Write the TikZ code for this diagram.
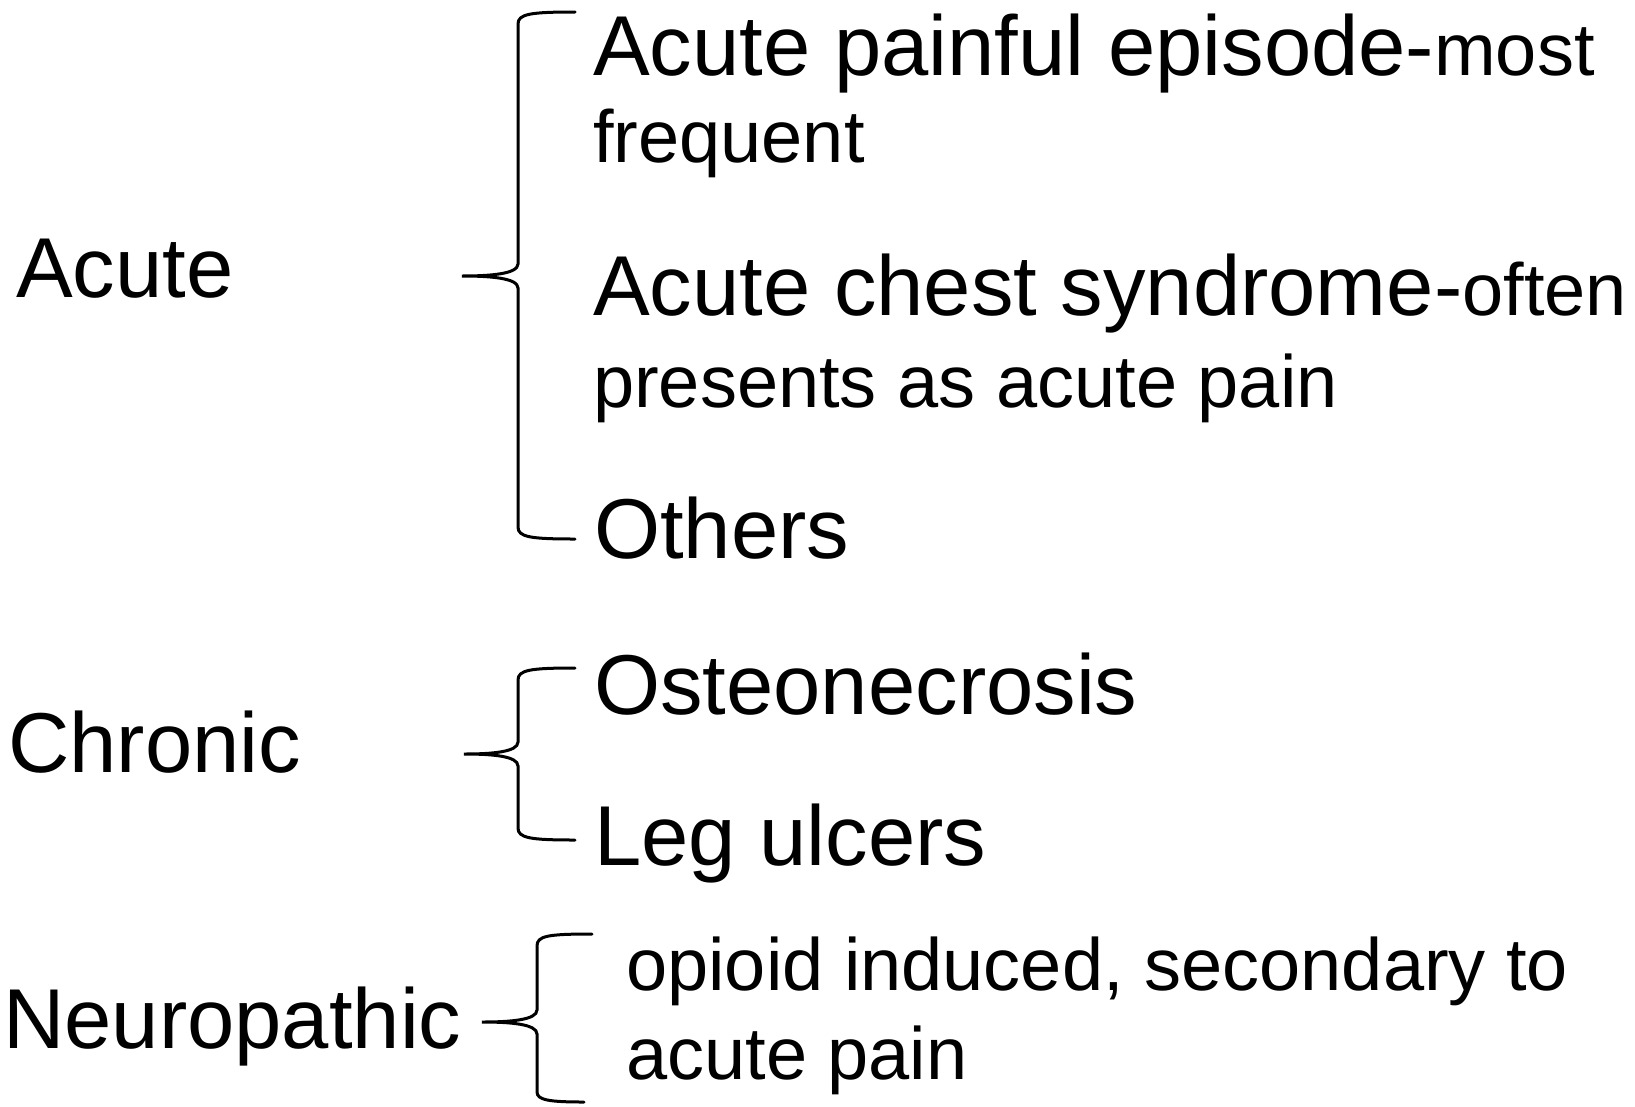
\documentclass[tikz,border=0pt]{standalone}
\usepackage{fontspec}
\setmainfont{Liberation Sans}
\usepackage{tikz}

\begin{document}
\begin{tikzpicture}[
    x=1pt, y=-1pt,
    cat/.style={anchor=base west, inner sep=0pt, font=\fontsize{85}{90}\selectfont},
    item/.style={anchor=base west, inner sep=0pt, align=left, font=\fontsize{85}{90}\selectfont},
    note/.style={font=\fontsize{74}{90}\selectfont},
    brace/.style={line width=3pt, line cap=round},
]
    \useasboundingbox (0,0) rectangle (1635,1106);

    % categories
    \node[cat] (acute) at (16,297) {Acute};
    \node[cat] (chronic) at (8,772) {Chronic};
    \node[cat] (neuro) at (3,1048) {Neuropathic};

    % items (multi-line ones sit on their last baseline)
    \node[item] (ape) at (593,162) {Acute painful episode-{\fontsize{74}{90}\selectfont most}\\[-3pt]{\fontsize{74}{90}\selectfont frequent}};
    \node[item] (acs) at (593,407) {Acute chest syndrome-{\fontsize{74}{90}\selectfont often}\\[2pt]{\fontsize{74}{90}\selectfont presents as acute pain}};
    \node[item] (others) at (594,558) {Others};
    \node[item] (osteo) at (594,714) {Osteonecrosis};
    \node[item] (leg) at (594,865) {Leg ulcers};
    \node[item, note] (opioid) at (626,1079) {opioid induced, secondary to\\[-1pt]acute pain};

    % braces
    \coordinate (b1tip) at (462,276);
    \coordinate (b1top) at (575,12);
    \coordinate (b1bot) at (575,539);
    \draw[brace] (b1top) .. controls +(-45,0) and +(0,-10) .. (518,24) -- (518,264)
        .. controls +(0,10) and +(28,0) .. (b1tip)
        .. controls +(28,0) and +(0,-10) .. (518,288) -- (518,527)
        .. controls +(0,10) and +(-45,0) .. (b1bot);

    \coordinate (b2tip) at (464,754);
    \coordinate (b2top) at (575,668);
    \coordinate (b2bot) at (575,840);
    \draw[brace] (b2top) .. controls +(-45,0) and +(0,-10) .. (518,680) -- (518,742)
        .. controls +(0,10) and +(28,0) .. (b2tip)
        .. controls +(28,0) and +(0,-10) .. (518,766) -- (518,828)
        .. controls +(0,10) and +(-45,0) .. (b2bot);

    \coordinate (b3tip) at (482,1022);
    \coordinate (b3top) at (592,934);
    \coordinate (b3bot) at (584,1102);
    \draw[brace] (b3top) .. controls +(-45,0) and +(0,-10) .. (537,946) -- (537,1010)
        .. controls +(0,10) and +(28,0) .. (b3tip)
        .. controls +(28,0) and +(0,-10) .. (537,1034) -- (537,1092)
        .. controls +(0,8) and +(-35,0) .. (b3bot);
\end{tikzpicture}
\end{document}
